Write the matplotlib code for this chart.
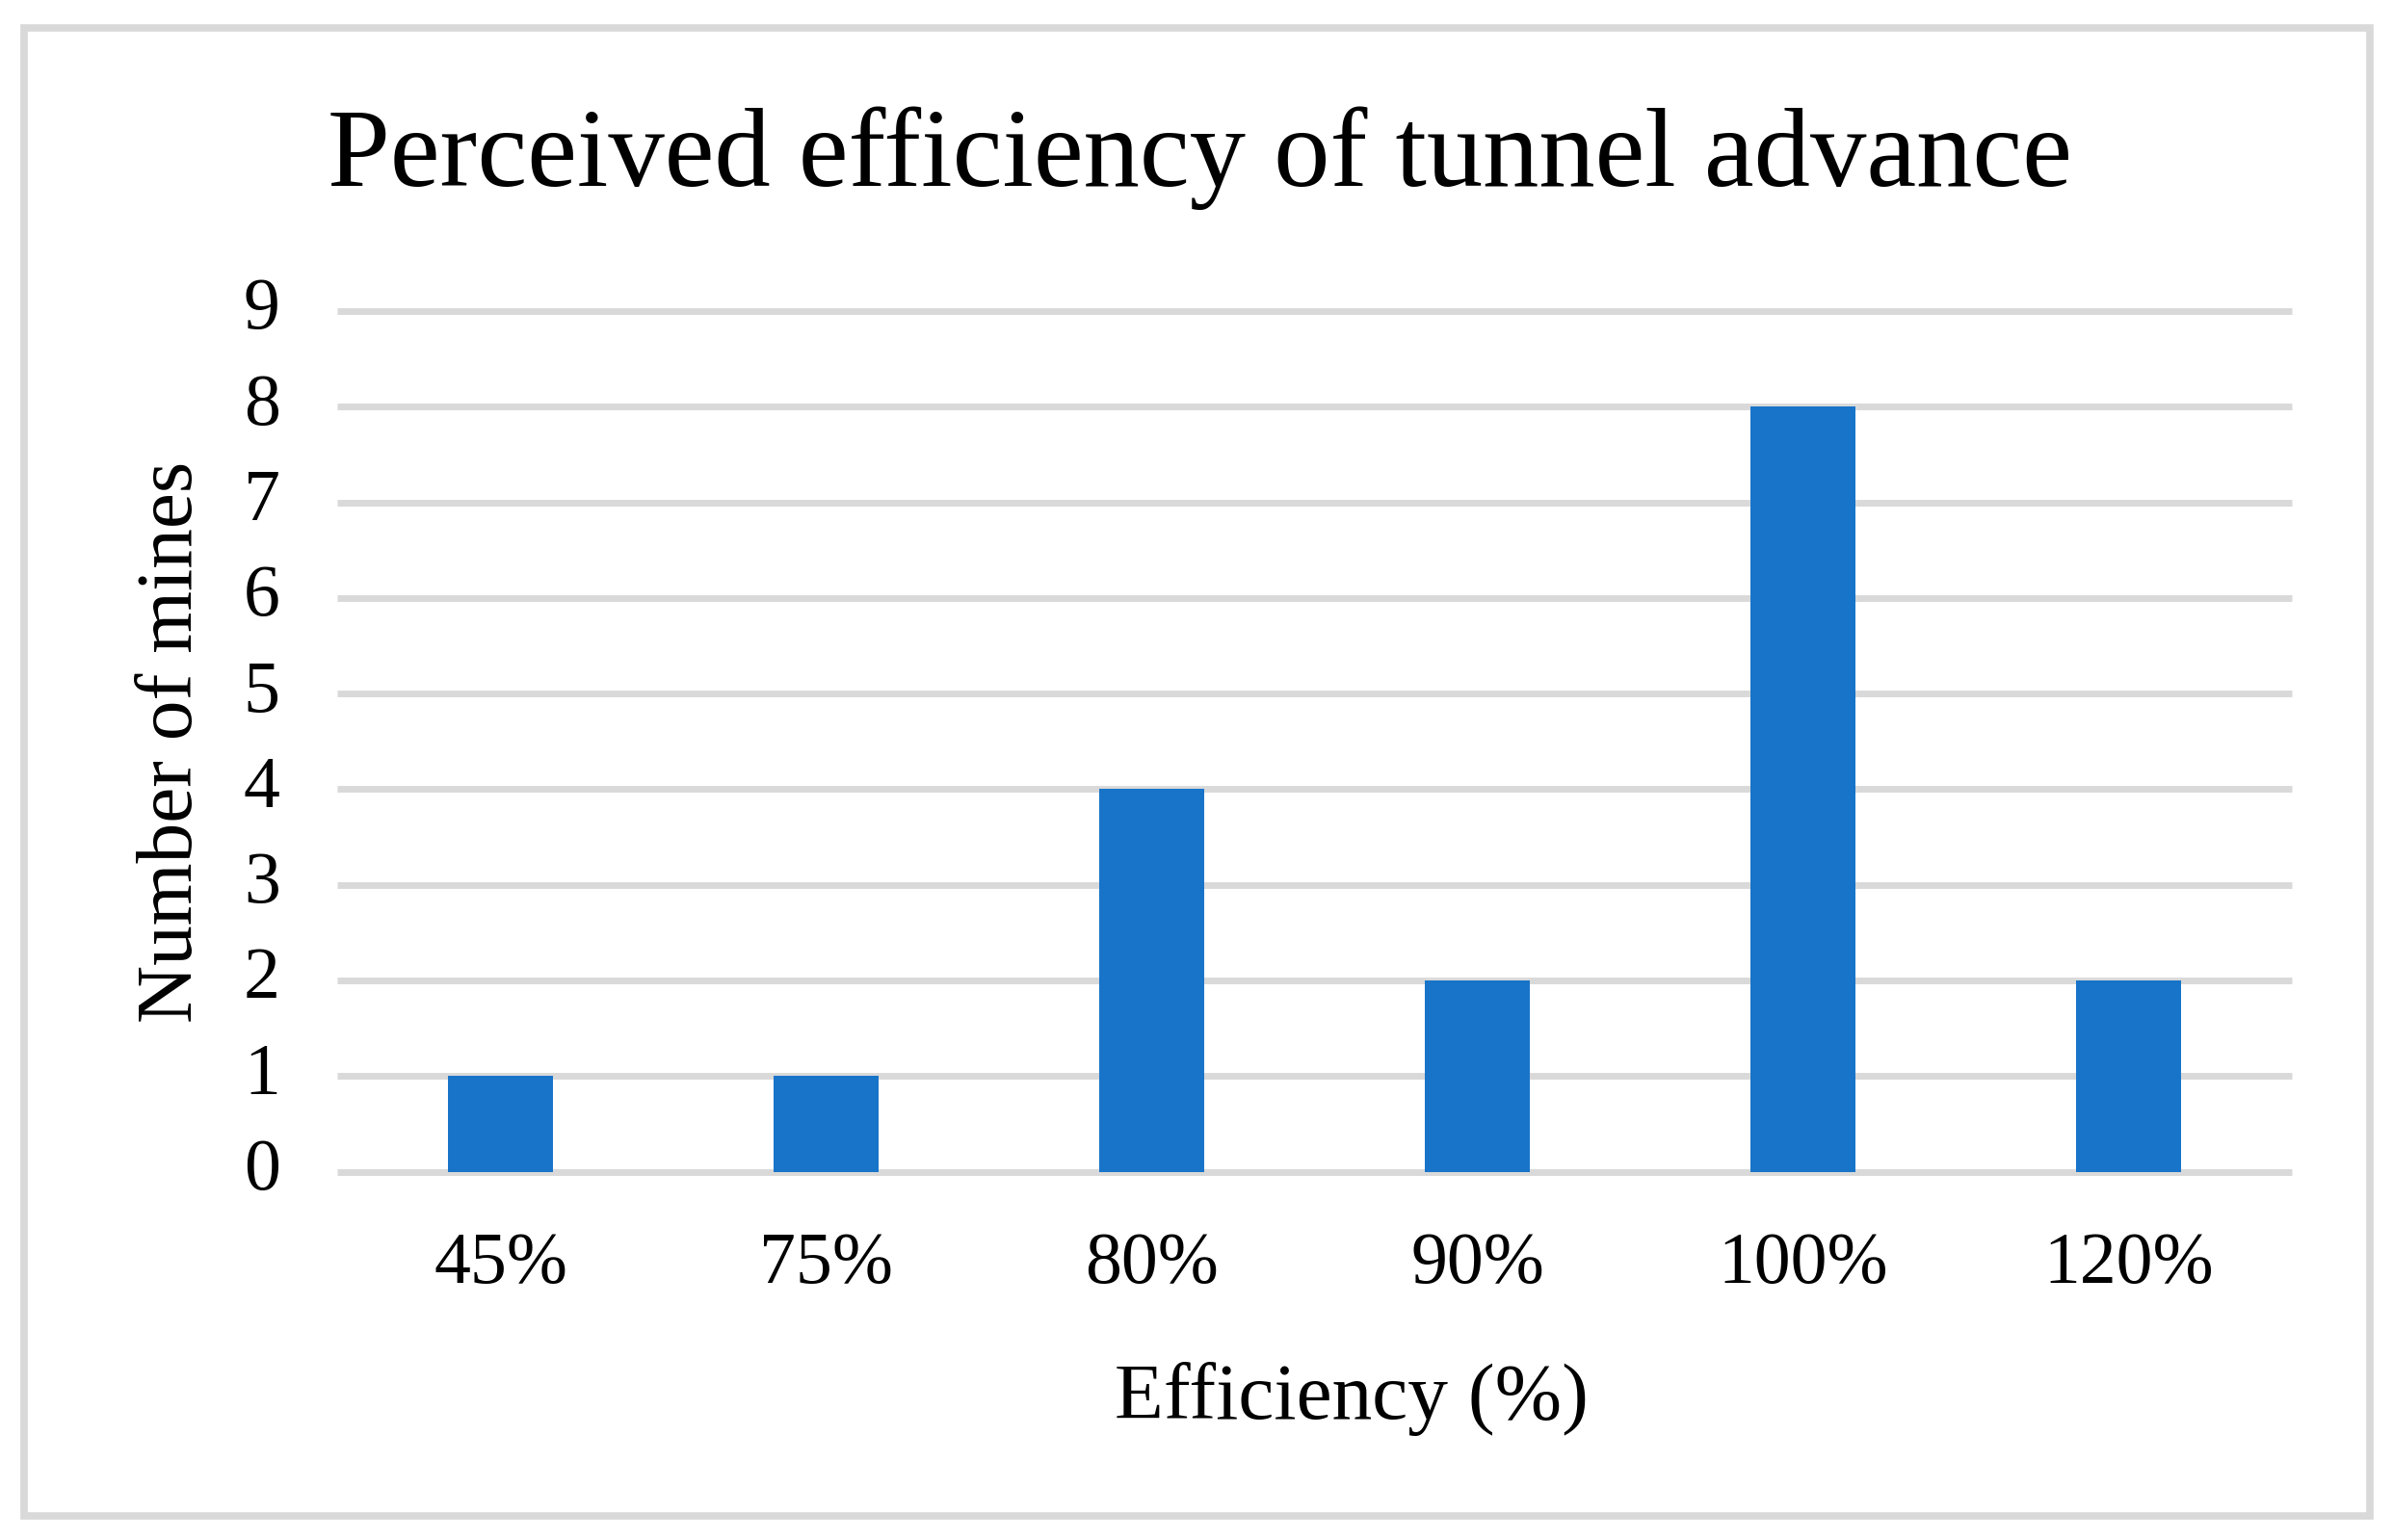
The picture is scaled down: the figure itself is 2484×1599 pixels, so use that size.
import matplotlib
matplotlib.use("Agg")
import matplotlib.pyplot as plt
from matplotlib.patches import Rectangle

categories = ["45%", "75%", "80%", "90%", "100%", "120%"]
values = [1, 1, 4, 2, 8, 2]
yticks = [0, 1, 2, 3, 4, 5, 6, 7, 8, 9]
title = "Perceived efficiency of tunnel advance"
xlabel = "Efficiency (%)"
ylabel = "Number of mines"

plt.rcParams['font.family'] = ['Liberation Serif', 'DejaVu Serif']

W, H = 2484, 1599
fig = plt.figure(figsize=(W / 100, H / 100), dpi=100)
fig.patch.set_facecolor('white')

ax = fig.add_axes([350.5 / W, 1 - 1216.5 / H, 2028 / W, (1216.5 - 323) / H])
x = list(range(len(categories)))
ax.bar(x, values, width=0.32, color='#1874C9', zorder=3)
ax.set_xlim(-0.5, len(categories) - 0.5)
ax.set_ylim(0, 9)
ax.set_yticks(yticks)
ax.set_yticklabels([str(v) for v in yticks])
ax.set_xticks(x)
ax.set_xticklabels(categories)
ax.tick_params(axis='both', length=0, labelsize=54.5, colors='black')
ax.tick_params(axis='y', pad=43)
ax.tick_params(axis='x', pad=45)
for s in ax.spines.values():
    s.set_visible(False)
ax.yaxis.grid(True, color='#d9d9d9', linewidth=5, zorder=0)
ax.set_axisbelow(True)
for gl in ax.get_ygridlines():
    gl.set_clip_on(False)
    gl.set_solid_capstyle('butt')
for lab in ax.get_yticklabels():
    lab.set_verticalalignment('center')

fig.text(1245 / W, 1 - 193 / H, title, ha='center', va='baseline', fontsize=84)
fig.text(1403 / W, 1 - 1473 / H, xlabel, ha='center', va='baseline', fontsize=60)
fig.text(179 / W, 1 - 770 / H, ylabel, ha='center', va='center', rotation=90, fontsize=60)

frame = Rectangle((25 / W, 25 / H), (2460 - 25) / W, (1570 - 25) / H,
                  transform=fig.transFigure, fill=False, edgecolor='#d9d9d9',
                  linewidth=5.5, zorder=10)
fig.patches.append(frame)

fig.savefig("out.png", dpi=100, facecolor='white')
